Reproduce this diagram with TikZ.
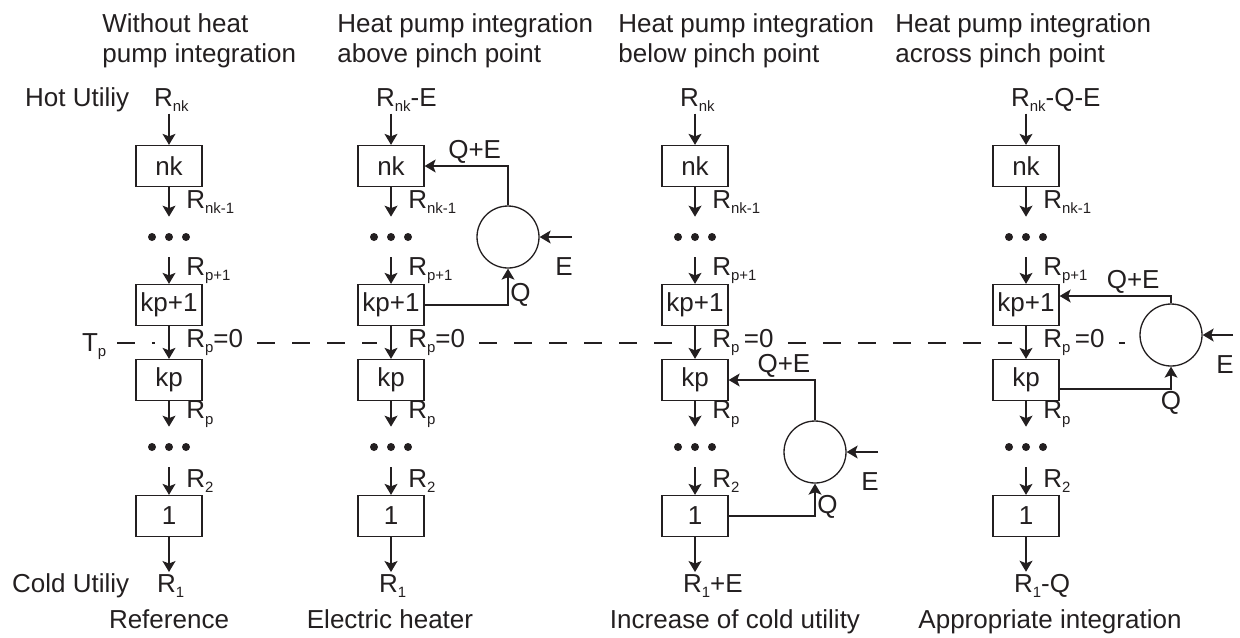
\documentclass[tikz,border=0pt]{standalone}
\usepackage{fontspec}
\setmainfont{Liberation Sans}
\usepackage{xcolor}
\usetikzlibrary{arrows.meta, positioning, calc}
\definecolor{ink}{HTML}{231F20}
\newcommand{\sbs}[1]{\raisebox{-3.2pt}{\fontsize{8.5}{8.5}\selectfont #1}}

\begin{document}
\begin{tikzpicture}[
    x=0.02cm, y=-0.02cm,
    every node/.style={font=\fontsize{14.8}{17}\selectfont, text=ink},
    box/.style={draw=ink, line width=0.75pt, minimum width=1.32cm, minimum height=0.82cm, inner sep=0pt},
    hp/.style={circle, draw=ink, line width=0.75pt, minimum size=1.24cm, inner sep=0pt},
    dotrow/.style={minimum width=1cm, minimum height=0.8cm, inner sep=0pt},
    arr/.style={-{Stealth[length=2.2mm, width=2.6mm, inset=0.5mm]}, line width=0.7pt, draw=ink},
    pinch/.style={draw=ink, line width=0.7pt, dash pattern=on 0.36cm off 0.34cm},
    lbl/.style={inner sep=1pt},
    title/.style={anchor=north west, align=left, inner sep=0pt},
]
    \useasboundingbox (0,0) rectangle (1240,637);
    % column headings and captions
    \node[title] (ta) at (102,13) {Without heat\\pump integration};
    \node[title] (tb) at (337,13) {Heat pump integration\\above pinch point};
    \node[title] (tc) at (618,13) {Heat pump integration\\below pinch point};
    \node[title] (td) at (895,13) {Heat pump integration\\across pinch point};
    \node[lbl, anchor=base] (capa) at (169,628) {Reference};
    \node[lbl, anchor=base] (capb) at (390,628) {Electric heater};
    \node[lbl, anchor=base] (capc) at (735,628) {Increase of cold utility};
    \node[lbl, anchor=base] (capd) at (1050,628) {Appropriate integration};
    \node[lbl, anchor=base west] (hot) at (23,106) {Hot Utiliy};
    \node[lbl, anchor=base west] (cold) at (10,592) {Cold Utiliy};
    \node[lbl, anchor=base west] (tp) at (80,351) {T\sbs{p}};
    % temperature intervals
    \foreach \c/\x/\rtop/\rbot/\gap in {a/169/{R\sbs{nk}}/{R\sbs{1}}/0pt, b/391/{R\sbs{nk}-E}/{R\sbs{1}}/0pt,
                                   c/695/{R\sbs{nk}}/{R\sbs{1}+E}/2.5pt, d/1026/{R\sbs{nk}-Q-E}/{R\sbs{1}-Q}/2.5pt} {
        \node[lbl, anchor=base west] (top\c) at (\x-17,106) {\rtop};
        \node[box] (nk\c) at (\x,166) {nk};
        \node[dotrow] (da\c) at (\x,237) {};
        \node[box] (kpa\c) at (\x,305) {kp+1};
        \node[box] (kp\c) at (\x,380) {kp};
        \node[dotrow] (db\c) at (\x,447) {};
        \node[box] (one\c) at (\x,516) {1};
        \node[lbl, anchor=base west] (bot\c) at (\x-14,592) {\rbot};
        \coordinate (g\c) at (\x-14,343);
        \foreach \d in {-17,0,17} {
            \fill[ink] ($(da\c)+(\d,0)$) circle[radius=0.08cm];
            \fill[ink] ($(db\c)+(\d,0)$) circle[radius=0.08cm];
        }
        \draw[arr] (top\c.south -| nk\c) -- (nk\c);
        \draw[arr] (nk\c) -- node[lbl, right=0.3cm] {R\sbs{nk-1}} (da\c);
        \draw[arr] (da\c) -- node[lbl, right=0.3cm] {R\sbs{p+1}} (kpa\c);
        \draw[arr] (kpa\c) -- node[lbl, right=0.3cm] (rz\c) {R\sbs{p}\hspace{\gap}=0} (kp\c);
        \draw[arr] (kp\c) -- node[lbl, right=0.3cm] {R\sbs{p}} (db\c);
        \draw[arr] (db\c) -- node[lbl, right=0.3cm] {R\sbs{2}} (one\c);
        \draw[arr] (one\c) -- (bot\c.north -| one\c);
    }
    % pinch line
    \coordinate (pl) at (117,343);
    \coordinate (pr) at (1125,343);
    \draw[pinch] (pl) -- (ga)
        ($(rza.east |- pl)+(12,0)$) -- (gb)
        ($(rzb.east |- pl)+(12,0)$) -- (gc)
        ($(rzc.east |- pl)+(12,0)$) -- (gd)
        ($(rzd.east |- pl)+(12,0)$) -- (pr);
    % heat pumps
    \node[hp] (hpb) at (508,237) {};
    \node[hp] (hpc) at (815,452) {};
    \node[hp] (hpd) at (1171,335) {};
    \coordinate (eb) at (572,237);
    \coordinate (ec) at (878,452);
    \coordinate (ed) at (1233,335);
    \draw[arr] (hpb.north) |- node[lbl, pos=0.7, above] {Q+E} (nkb.east);
    \draw[arr] (kpab.east) -| node[lbl, pos=0.64, right] {Q} (hpb.south);
    \draw[arr] (eb) -- (hpb.east);
    \node[lbl] (elb) at ($(eb)+(-8,30)$) {E};
    \draw[arr] (hpc.north) |- node[lbl, pos=0.68, above] {Q+E} (kpc.east);
    \draw[arr] (onec.east) -| node[lbl, pos=0.64, right] {Q} (hpc.south);
    \draw[arr] (ec) -- (hpc.east);
    \node[lbl] (elc) at ($(ec)+(-8,30)$) {E};
    \draw[arr] (hpd.north) |- node[lbl, pos=0.67, above] {Q+E} ([yshift=0.18cm]kpad.east);
    \draw[arr] ([yshift=-0.18cm]kpd.east) -| node[lbl, pos=0.5, below] {Q} (hpd.south);
    \draw[arr] (ed) -- (hpd.east);
    \node[lbl] (eld) at ($(ed)+(-8,30)$) {E};
\end{tikzpicture}
\end{document}
